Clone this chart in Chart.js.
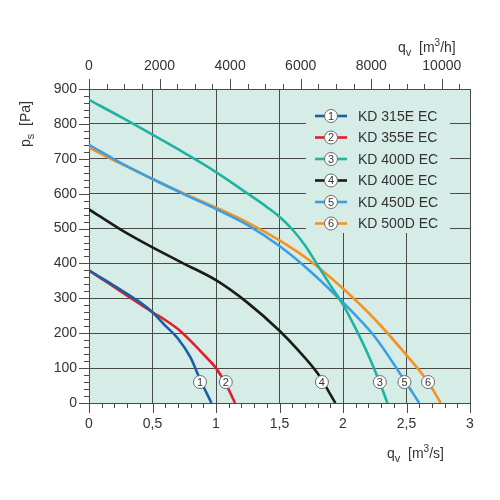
<!DOCTYPE html>
<html><head><meta charset="utf-8">
<script src="https://cdn.jsdelivr.net/npm/chart.js@4.4.1/dist/chart.umd.min.js"></script>
<style>html,body{margin:0;padding:0;background:#fff;}#wrap{width:500px;height:500px;}</style>
</head><body><div id="wrap"><canvas id="c" width="500" height="500"></canvas></div>
<script>
// ---- data ----
const seriesNames = ['KD 315E EC', 'KD 355E EC', 'KD 400D EC', 'KD 400E EC', 'KD 450D EC', 'KD 500D EC'];
const seriesNumbers = ['1', '2', '3', '4', '5', '6'];
const seriesColors = ['#1b5ea6', '#e1202b', '#1fb3a0', '#1a1a1a', '#3aa0e4', '#f39324'];

const flow315E = [0, 0.1, 0.2, 0.3, 0.4, 0.5, 0.6, 0.7, 0.8, 0.874, 0.964];
const ps315E   = [380, 358, 336, 313, 289, 260, 222, 185, 130, 68, 0];
const flow355E = [0, 0.1, 0.2, 0.3, 0.4, 0.5, 0.6, 0.7, 0.8, 0.9, 1.0, 1.077, 1.15];
const ps355E   = [380, 356, 332, 308, 284, 260, 238, 212, 178, 140, 100, 55, 0];
const flow400D = [0, 0.25, 0.5, 0.75, 1.0, 1.25, 1.4, 1.5, 1.6, 1.7, 1.8, 1.9, 2.0, 2.1, 2.2, 2.29, 2.35];
const ps400D   = [869, 820, 769, 717, 662, 600, 562, 534, 498, 452, 395, 338, 282, 213, 137, 58, 0];
const flow400E = [0, 0.25, 0.5, 0.75, 1.0, 1.25, 1.5, 1.65, 1.8, 1.94];
const ps400E   = [555, 497, 446, 399, 352, 287, 207, 150, 85, 0];
const flow450D = [0, 0.25, 0.5, 0.75, 1.0, 1.25, 1.5, 1.75, 2.0, 2.25, 2.484, 2.6];
const ps450D   = [740, 688, 642, 598, 556, 510, 450, 375, 288, 190, 65, 0];
const flow500D = [0, 0.25, 0.5, 0.75, 1.0, 1.25, 1.5, 1.75, 2.0, 2.25, 2.5, 2.67, 2.77];
const ps500D   = [732, 686, 642, 600, 560, 517, 466, 405, 328, 240, 137, 60, 0];

const seriesFlows = [flow315E, flow355E, flow400D, flow400E, flow450D, flow500D];
const seriesPs = [ps315E, ps355E, ps400D, ps400E, ps450D, ps500D];

const markerFlow = [0.874, 1.077, 2.29, 1.834, 2.484, 2.67];
const markerPs   = [60, 60, 60, 60, 60, 60];

const bottomTicks = [0, 0.5, 1, 1.5, 2, 2.5, 3];
const leftTicks = [0, 100, 200, 300, 400, 500, 600, 700, 800, 900];
const topTicks = [0, 2000, 4000, 6000, 8000, 10000];
const flowMax = 3, psMax = 900, hourMax = 10800;

// ---- style ----
const FONT = '"Liberation Sans", Arial, sans-serif';
const TXT = '#333333';
const GRID = '#4a4a4a';
const BG = '#d6ece7';

const datasets = seriesNames.map((n, i) => ({
  label: n,
  data: seriesFlows[i].map((x, k) => ({x: x, y: seriesPs[i][k]})),
  borderColor: seriesColors[i],
  backgroundColor: seriesColors[i],
  borderWidth: 2.6,
  pointRadius: 0,
  cubicInterpolationMode: 'monotone',
  fill: false,
  xAxisID: 'x',
  yAxisID: 'y'
}));

function drawCircleNum(ctx, cx, cy, num) {
  ctx.beginPath();
  ctx.arc(cx, cy, 6.5, 0, Math.PI * 2);
  ctx.fillStyle = '#ffffff';
  ctx.fill();
  ctx.lineWidth = 1;
  ctx.strokeStyle = '#6a6a6a';
  ctx.stroke();
  ctx.fillStyle = TXT;
  ctx.font = '11px ' + FONT;
  ctx.textAlign = 'center';
  ctx.textBaseline = 'middle';
  ctx.fillText(num, cx, cy + 0.5);
}

function drawTitle(ctx, x, y, parts) {
  // parts: [text, size, dy]
  let cx = x;
  parts.forEach(p => {
    ctx.font = p[1] + 'px ' + FONT;
    ctx.fillText(p[0], cx, y + p[2]);
    cx += ctx.measureText(p[0]).width;
  });
}

const decor = {
  id: 'decor',
  beforeDatasetsDraw(chart) {
    const ctx = chart.ctx;
    const xs = chart.scales.x, ys = chart.scales.y, xt = chart.scales.x2;
    const a = chart.chartArea;
    ctx.save();
    // legend box background (hides grid)
    ctx.fillStyle = BG;
    ctx.fillRect(306, a.top + 1, 144, 233 - a.top - 1);
    // minor/major ticks
    ctx.strokeStyle = GRID;
    ctx.lineWidth = 1;
    ctx.beginPath();
    for (let i = 0; i <= 30; i++) {
      const px = Math.round(xs.getPixelForValue(i / 10)) + 0.5;
      const len = (i % 5 === 0) ? 10 : 5;
      ctx.moveTo(px, a.bottom); ctx.lineTo(px, a.bottom + len);
    }
    for (let i = 0; i <= 45; i++) {
      const py = Math.round(ys.getPixelForValue(i * 20)) + 0.5;
      const len = (i % 5 === 0) ? 10 : 5;
      ctx.moveTo(a.left, py); ctx.lineTo(a.left - len, py);
    }
    for (let i = 0; i <= 21; i++) {
      const px = Math.round(xt.getPixelForValue(i * 500)) + 0.5;
      const len = (i % 4 === 0) ? 10 : 5;
      ctx.moveTo(px, a.top); ctx.lineTo(px, a.top - len);
    }
    ctx.stroke();
    ctx.restore();
  },
  afterDatasetsDraw(chart) {
    const ctx = chart.ctx;
    const xs = chart.scales.x, ys = chart.scales.y;
    ctx.save();
    // curve markers
    markerFlow.forEach((f, i) => {
      drawCircleNum(ctx, xs.getPixelForValue(f), ys.getPixelForValue(markerPs[i]), seriesNumbers[i]);
    });
    // legend
    seriesNames.forEach((n, i) => {
      const y = 116 + i * 21.5;
      ctx.strokeStyle = seriesColors[i];
      ctx.lineWidth = 2.6;
      ctx.beginPath();
      ctx.moveTo(315, y); ctx.lineTo(347, y);
      ctx.stroke();
      drawCircleNum(ctx, 331, y, seriesNumbers[i]);
      ctx.fillStyle = TXT;
      ctx.font = '14px ' + FONT;
      ctx.textAlign = 'left';
      ctx.textBaseline = 'middle';
      ctx.fillText(n, 358, y + 1);
    });
    // axis titles
    ctx.fillStyle = TXT;
    ctx.textAlign = 'left';
    ctx.textBaseline = 'alphabetic';
    drawTitle(ctx, 387, 458, [['q', 14, 0], ['v', 11, 4], ['  [m', 14, 0], ['3', 10, -6], ['/s]', 14, 0]]);
    drawTitle(ctx, 398, 52, [['q', 14, 0], ['v', 11, 4], ['  [m', 14, 0], ['3', 10, -6], ['/h]', 14, 0]]);
    ctx.translate(30, 147);
    ctx.rotate(-Math.PI / 2);
    drawTitle(ctx, 0, 0, [['p', 14, 0], ['s', 11, 4], ['  [Pa]', 14, 0]]);
    ctx.restore();
  }
};

new Chart(document.getElementById('c'), {
  type: 'line',
  data: {datasets: datasets},
  plugins: [decor],
  options: {
    responsive: false,
    devicePixelRatio: 1,
    animation: false,
    layout: {padding: {left: 0, right: 30, top: 0, bottom: 0}},
    plugins: {legend: {display: false}, tooltip: {enabled: false}},
    scales: {
      x: {
        type: 'linear', position: 'bottom', min: 0, max: flowMax,
        afterFit: s => { s.height = 97; },
        afterBuildTicks: s => { s.ticks = bottomTicks.map(v => ({value: v})); },
        grid: {color: GRID, lineWidth: 1, drawTicks: false},
        border: {color: GRID, width: 1},
        ticks: {color: TXT, font: {family: FONT, size: 14}, padding: 13, maxRotation: 0,
                callback: v => String(v).replace('.', ',')}
      },
      x2: {
        type: 'linear', position: 'top', min: 0, max: hourMax,
        afterFit: s => { s.height = 89; },
        afterBuildTicks: s => { s.ticks = topTicks.map(v => ({value: v})); },
        grid: {display: false, drawTicks: false},
        border: {color: GRID, width: 1},
        ticks: {color: TXT, font: {family: FONT, size: 14}, padding: 14, maxRotation: 0,
                callback: v => String(v)}
      },
      y: {
        type: 'linear', position: 'left', min: 0, max: psMax,
        afterFit: s => { s.width = 89; },
        afterBuildTicks: s => { s.ticks = leftTicks.map(v => ({value: v})); },
        grid: {color: GRID, lineWidth: 1, drawTicks: false},
        border: {color: GRID, width: 1},
        ticks: {color: TXT, font: {family: FONT, size: 14}, padding: 12, callback: v => String(v)}
      }
    }
  },
  plugins: [decor, {
    id: 'bgfill',
    beforeDraw(chart) {
      const a = chart.chartArea, ctx = chart.ctx;
      ctx.save();
      ctx.fillStyle = BG;
      ctx.fillRect(a.left, a.top, a.right - a.left, a.bottom - a.top);
      ctx.restore();
    }
  }]
});
</script>
</body></html>
